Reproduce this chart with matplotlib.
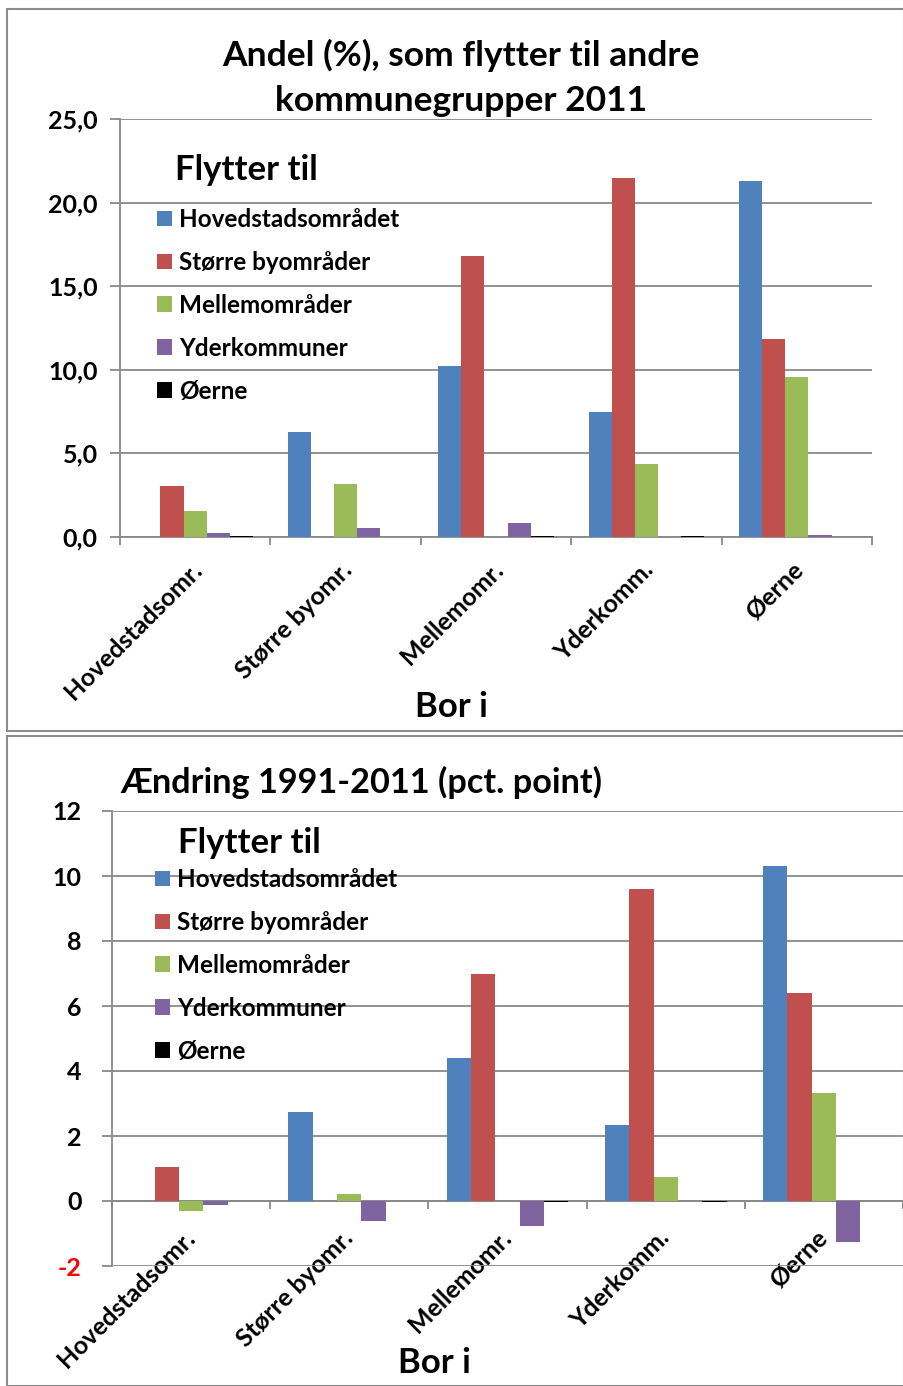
import numpy as np
from matplotlib import pyplot as plt
from matplotlib.patches import Rectangle, Patch
from matplotlib.ticker import FuncFormatter
from matplotlib.transforms import ScaledTranslation

plt.rcParams["font.family"] = ["Lato", "DejaVu Sans"]
plt.rcParams["font.weight"] = "bold"

W, H = 904, 1386

categories = ["Hovedstadsomr.", "Større byomr.", "Mellemomr.", "Yderkomm.", "Øerne"]
series = ["Hovedstadsområdet", "Større byområder", "Mellemområder", "Yderkommuner", "Øerne"]
colors = ["#4F81BD", "#C0504D", "#9BBB59", "#8064A2", "#000000"]

# Andel (%) 2011, one list per "flytter til" series, across "bor i" categories
andel_hoved = [0.0, 6.3, 10.2, 7.5, 21.3]
andel_storre = [3.05, 0.0, 16.8, 21.5, 11.85]
andel_mellem = [1.55, 3.15, 0.0, 4.35, 9.55]
andel_yder = [0.25, 0.55, 0.85, 0.0, 0.13]
andel_oerne = [0.05, 0.0, 0.03, 0.03, 0.0]

# Aendring 1991-2011 (pct. point)
aendr_hoved = [0.0, 2.75, 4.4, 2.35, 10.3]
aendr_storre = [1.05, 0.0, 7.0, 9.6, 6.4]
aendr_mellem = [-0.3, 0.22, 0.0, 0.74, 3.33]
aendr_yder = [-0.13, -0.6, -0.78, 0.0, -1.26]
aendr_oerne = [0.0, 0.0, -0.03, -0.02, 0.0]

GRID = "#898989"


def px_axes(fig, left, top, right, bottom):
    return fig.add_axes([left / W, 1 - bottom / H, (right - left) / W, (bottom - top) / H])


def draw_panel(fig, ax, data, ylim, yticks, fmt, ypad, shift):
    w = 1 / 6.5
    x = np.arange(len(categories))
    for j, (vals, c) in enumerate(zip(data, colors)):
        ax.bar(x + (j - 2) * w, vals, w, color=c, zorder=3, linewidth=0)
    ax.set_xlim(-0.5, len(categories) - 0.5)
    ax.set_ylim(*ylim)
    ax.set_yticks(yticks)
    ax.yaxis.set_major_formatter(FuncFormatter(fmt))
    ax.yaxis.grid(True, color=GRID, lw=1.3, zorder=0)
    for s in ["top", "right"]:
        ax.spines[s].set_visible(False)
    for s in ["left", "bottom"]:
        ax.spines[s].set_color(GRID)
        ax.spines[s].set_linewidth(1.3)
    ax.set_xticks(x)
    ax.set_xticks(np.arange(-0.5, len(categories)), minor=True)
    ax.tick_params(axis="x", which="major", length=0, pad=15)
    ax.tick_params(axis="x", which="minor", length=6, width=1.3, color=GRID, direction="out")
    ax.tick_params(axis="y", length=7, width=1.3, color=GRID, pad=ypad, labelsize=18)
    ax.set_xticklabels(categories, rotation=45, ha="right", rotation_mode="anchor",
                       fontsize=18, fontweight="bold")
    off = ScaledTranslation(shift[0] / 100, shift[1] / 100, fig.dpi_scale_trans)
    for t in ax.get_xticklabels():
        t.set_transform(t.get_transform() + off)
    for t in ax.get_yticklabels():
        t.set_fontweight("bold")


def add_legend(fig, x, y, title_x, title_y):
    handles = [Patch(facecolor=c, edgecolor="none") for c in colors]
    fig.text(title_x / W, 1 - title_y / H, "Flytter til", fontsize=25, fontweight="bold",
             va="center", ha="left")
    fig.legend(handles, series, loc="upper left", bbox_to_anchor=(x / W, 1 - y / H),
               frameon=False, fontsize=17.5, handlelength=0.62, handleheight=0.62,
               handletextpad=0.3, labelspacing=0.82, borderpad=0, borderaxespad=0)


fig = plt.figure(figsize=(W / 100, H / 100), dpi=100)

# frames around the two charts
fig.add_artist(Rectangle((7 / W, 1 - 731 / H), (W - 7) / W, 722 / H, transform=fig.transFigure,
                         fill=False, edgecolor="#8c8c8c", lw=1.5))
fig.add_artist(Rectangle((7 / W, 0), (W - 7) / W, (H - 736) / H, transform=fig.transFigure,
                         fill=False, edgecolor="#8c8c8c", lw=1.5))

# top chart
ax1 = px_axes(fig, 120, 119, 872, 537)
draw_panel(fig, ax1, [andel_hoved, andel_storre, andel_mellem, andel_yder, andel_oerne],
           (0, 25), np.arange(0, 26, 5), lambda v, p: f"{v:.1f}".replace(".", ","), 9, (-5, 0))
fig.text(461 / W, 1 - 78 / H, "Andel (%), som flytter til andre\nkommunegrupper 2011",
         ha="center", va="center", fontsize=25.5, fontweight="bold", linespacing=1.5)
fig.text(451 / W, 1 - 707 / H, "Bor i", ha="center", va="center", fontsize=25, fontweight="bold")
add_legend(fig, 157, 208, 175, 170)

# bottom chart
ax2 = px_axes(fig, 112, 811, 903, 1266)
ax2.spines["bottom"].set_position(("data", 0))
draw_panel(fig, ax2, [aendr_hoved, aendr_storre, aendr_mellem, aendr_yder, aendr_oerne],
           (-2, 12), np.arange(-2, 13, 2), lambda v, p: f"{v:.0f}", 15, (-8, -4))
ax2.get_yticklabels()[0].set_color("red")
fig.text(120 / W, 1 - 782 / H, "Ændring 1991-2011 (pct. point)", ha="left", va="center",
         fontsize=24.7, fontweight="bold")
fig.text(434 / W, 1 - 1363 / H, "Bor i", ha="center", va="center", fontsize=25, fontweight="bold")
add_legend(fig, 155, 868, 178, 843)

fig.savefig("out.png", dpi=100)
